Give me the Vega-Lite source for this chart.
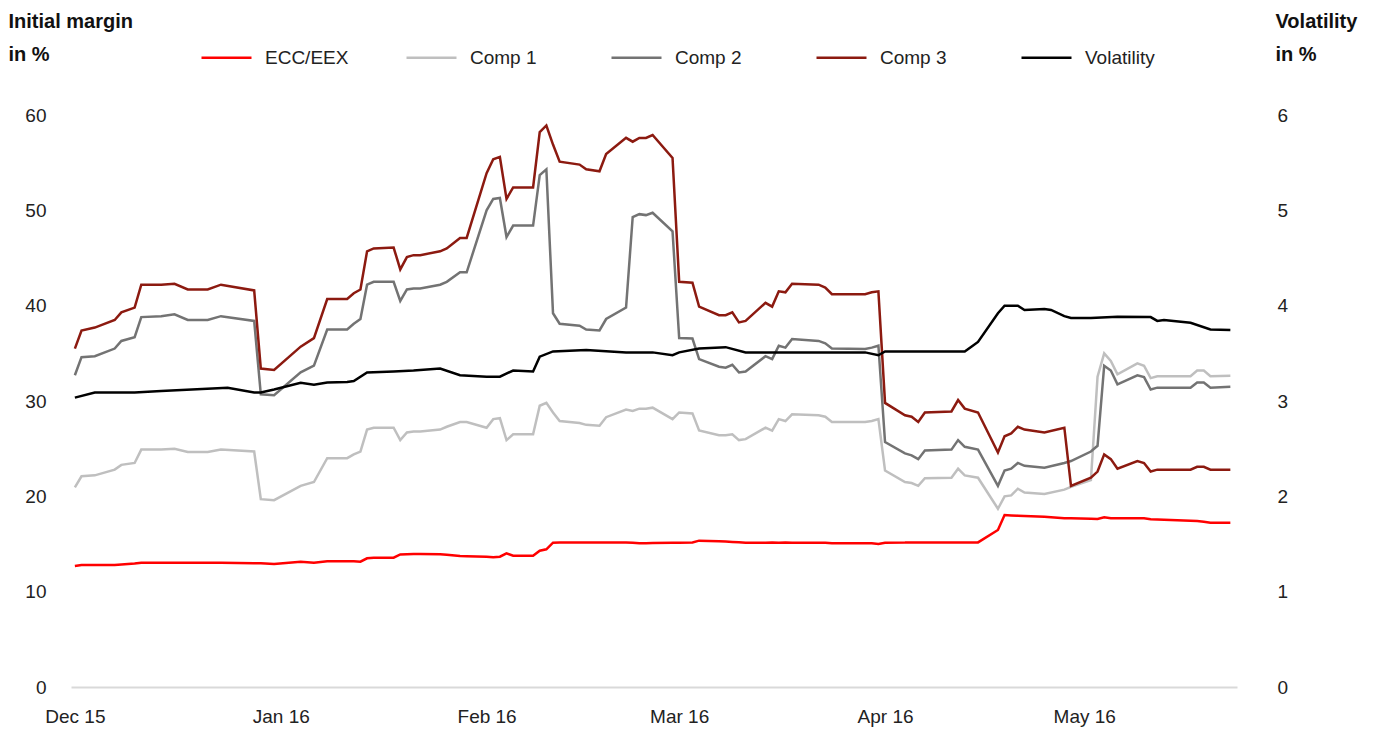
{
  "$schema": "https://vega.github.io/schema/vega-lite/v6.json",
  "width": 1166,
  "height": 572,
  "autosize": {"type": "none"},
  "padding": {"left": 71, "top": 115, "right": 138, "bottom": 44},
  "background": "#ffffff",
  "config": {
    "font": "Liberation Sans",
    "view": {"stroke": null},
    "axis": {"grid": false, "ticks": false, "labelFontSize": 19, "labelColor": "#222222", "titleColor": "#111111"}
  },
  "datasets": {
    "margins": [
      {"date": "2015/12/01", "ECC/EEX": 12.7, "Comp 1": 20.95, "Comp 2": 32.7, "Comp 3": 35.5},
      {"date": "2015/12/02", "ECC/EEX": 12.8, "Comp 1": 22.1, "Comp 2": 34.6, "Comp 3": 37.4},
      {"date": "2015/12/04", "ECC/EEX": 12.8, "Comp 1": 22.2, "Comp 2": 34.7, "Comp 3": 37.7},
      {"date": "2015/12/07", "ECC/EEX": 12.8, "Comp 1": 22.8, "Comp 2": 35.5, "Comp 3": 38.5},
      {"date": "2015/12/08", "ECC/EEX": 12.85, "Comp 1": 23.3, "Comp 2": 36.3, "Comp 3": 39.3},
      {"date": "2015/12/10", "ECC/EEX": 12.95, "Comp 1": 23.5, "Comp 2": 36.7, "Comp 3": 39.8},
      {"date": "2015/12/11", "ECC/EEX": 13.04, "Comp 1": 24.9, "Comp 2": 38.8, "Comp 3": 42.2},
      {"date": "2015/12/14", "ECC/EEX": 13.04, "Comp 1": 24.9, "Comp 2": 38.9, "Comp 3": 42.2},
      {"date": "2015/12/16", "ECC/EEX": 13.04, "Comp 1": 25.0, "Comp 2": 39.1, "Comp 3": 42.3},
      {"date": "2015/12/18", "ECC/EEX": 13.04, "Comp 1": 24.65, "Comp 2": 38.5, "Comp 3": 41.7},
      {"date": "2015/12/21", "ECC/EEX": 13.04, "Comp 1": 24.65, "Comp 2": 38.5, "Comp 3": 41.7},
      {"date": "2015/12/23", "ECC/EEX": 13.04, "Comp 1": 24.9, "Comp 2": 38.9, "Comp 3": 42.2},
      {"date": "2015/12/28", "ECC/EEX": 12.97, "Comp 1": 24.7, "Comp 2": 38.4, "Comp 3": 41.6},
      {"date": "2015/12/29", "ECC/EEX": 12.97, "Comp 1": 19.7, "Comp 2": 30.7, "Comp 3": 33.4},
      {"date": "2015/12/31", "ECC/EEX": 12.9, "Comp 1": 19.6, "Comp 2": 30.6, "Comp 3": 33.25},
      {"date": "2016/01/04", "ECC/EEX": 13.15, "Comp 1": 21.1, "Comp 2": 33.0, "Comp 3": 35.7},
      {"date": "2016/01/06", "ECC/EEX": 13.04, "Comp 1": 21.5, "Comp 2": 33.7, "Comp 3": 36.6},
      {"date": "2016/01/08", "ECC/EEX": 13.2, "Comp 1": 24.0, "Comp 2": 37.5, "Comp 3": 40.7},
      {"date": "2016/01/11", "ECC/EEX": 13.2, "Comp 1": 24.0, "Comp 2": 37.5, "Comp 3": 40.7},
      {"date": "2016/01/12", "ECC/EEX": 13.18, "Comp 1": 24.4, "Comp 2": 38.1, "Comp 3": 41.3},
      {"date": "2016/01/13", "ECC/EEX": 13.15, "Comp 1": 24.7, "Comp 2": 38.6, "Comp 3": 41.7},
      {"date": "2016/01/14", "ECC/EEX": 13.5, "Comp 1": 27.0, "Comp 2": 42.2, "Comp 3": 45.7},
      {"date": "2016/01/15", "ECC/EEX": 13.57, "Comp 1": 27.2, "Comp 2": 42.5, "Comp 3": 46.0},
      {"date": "2016/01/18", "ECC/EEX": 13.57, "Comp 1": 27.2, "Comp 2": 42.5, "Comp 3": 46.1},
      {"date": "2016/01/19", "ECC/EEX": 13.9, "Comp 1": 25.9, "Comp 2": 40.5, "Comp 3": 43.8},
      {"date": "2016/01/20", "ECC/EEX": 13.92, "Comp 1": 26.7, "Comp 2": 41.7, "Comp 3": 45.1},
      {"date": "2016/01/21", "ECC/EEX": 13.94, "Comp 1": 26.8, "Comp 2": 41.8, "Comp 3": 45.3},
      {"date": "2016/01/22", "ECC/EEX": 13.95, "Comp 1": 26.8, "Comp 2": 41.8, "Comp 3": 45.3},
      {"date": "2016/01/25", "ECC/EEX": 13.92, "Comp 1": 27.0, "Comp 2": 42.2, "Comp 3": 45.7},
      {"date": "2016/01/26", "ECC/EEX": 13.88, "Comp 1": 27.3, "Comp 2": 42.5, "Comp 3": 46.0},
      {"date": "2016/01/28", "ECC/EEX": 13.74, "Comp 1": 27.8, "Comp 2": 43.5, "Comp 3": 47.1},
      {"date": "2016/01/29", "ECC/EEX": 13.72, "Comp 1": 27.8, "Comp 2": 43.5, "Comp 3": 47.1},
      {"date": "2016/02/01", "ECC/EEX": 13.67, "Comp 1": 27.2, "Comp 2": 50.0, "Comp 3": 53.9},
      {"date": "2016/02/02", "ECC/EEX": 13.6, "Comp 1": 28.1, "Comp 2": 51.2, "Comp 3": 55.35},
      {"date": "2016/02/03", "ECC/EEX": 13.67, "Comp 1": 28.2, "Comp 2": 51.3, "Comp 3": 55.6},
      {"date": "2016/02/04", "ECC/EEX": 14.02, "Comp 1": 25.9, "Comp 2": 47.2, "Comp 3": 51.2},
      {"date": "2016/02/05", "ECC/EEX": 13.77, "Comp 1": 26.5, "Comp 2": 48.4, "Comp 3": 52.4},
      {"date": "2016/02/08", "ECC/EEX": 13.77, "Comp 1": 26.5, "Comp 2": 48.4, "Comp 3": 52.4},
      {"date": "2016/02/09", "ECC/EEX": 14.3, "Comp 1": 29.5, "Comp 2": 53.7, "Comp 3": 58.2},
      {"date": "2016/02/10", "ECC/EEX": 14.44, "Comp 1": 29.8, "Comp 2": 54.3, "Comp 3": 58.9},
      {"date": "2016/02/11", "ECC/EEX": 15.14, "Comp 1": 28.8, "Comp 2": 39.2, "Comp 3": 56.9},
      {"date": "2016/02/12", "ECC/EEX": 15.15, "Comp 1": 27.9, "Comp 2": 38.1, "Comp 3": 55.1},
      {"date": "2016/02/15", "ECC/EEX": 15.15, "Comp 1": 27.7, "Comp 2": 37.9, "Comp 3": 54.8},
      {"date": "2016/02/16", "ECC/EEX": 15.16, "Comp 1": 27.5, "Comp 2": 37.5, "Comp 3": 54.3},
      {"date": "2016/02/18", "ECC/EEX": 15.16, "Comp 1": 27.4, "Comp 2": 37.4, "Comp 3": 54.1},
      {"date": "2016/02/19", "ECC/EEX": 15.17, "Comp 1": 28.3, "Comp 2": 38.6, "Comp 3": 55.9},
      {"date": "2016/02/22", "ECC/EEX": 15.17, "Comp 1": 29.1, "Comp 2": 39.8, "Comp 3": 57.6},
      {"date": "2016/02/23", "ECC/EEX": 15.12, "Comp 1": 28.95, "Comp 2": 49.3, "Comp 3": 57.2},
      {"date": "2016/02/24", "ECC/EEX": 15.07, "Comp 1": 29.2, "Comp 2": 49.6, "Comp 3": 57.6},
      {"date": "2016/02/25", "ECC/EEX": 15.08, "Comp 1": 29.2, "Comp 2": 49.5, "Comp 3": 57.6},
      {"date": "2016/02/26", "ECC/EEX": 15.1, "Comp 1": 29.3, "Comp 2": 49.75, "Comp 3": 57.9},
      {"date": "2016/02/29", "ECC/EEX": 15.14, "Comp 1": 28.1, "Comp 2": 47.8, "Comp 3": 55.5},
      {"date": "2016/03/01", "ECC/EEX": 15.14, "Comp 1": 28.8, "Comp 2": 36.6, "Comp 3": 42.5},
      {"date": "2016/03/03", "ECC/EEX": 15.17, "Comp 1": 28.7, "Comp 2": 36.55, "Comp 3": 42.4},
      {"date": "2016/03/04", "ECC/EEX": 15.35, "Comp 1": 26.9, "Comp 2": 34.4, "Comp 3": 39.9},
      {"date": "2016/03/07", "ECC/EEX": 15.28, "Comp 1": 26.4, "Comp 2": 33.6, "Comp 3": 39.0},
      {"date": "2016/03/08", "ECC/EEX": 15.25, "Comp 1": 26.4, "Comp 2": 33.5, "Comp 3": 39.0},
      {"date": "2016/03/09", "ECC/EEX": 15.22, "Comp 1": 26.5, "Comp 2": 33.8, "Comp 3": 39.3},
      {"date": "2016/03/10", "ECC/EEX": 15.18, "Comp 1": 25.9, "Comp 2": 33.0, "Comp 3": 38.25},
      {"date": "2016/03/11", "ECC/EEX": 15.14, "Comp 1": 26.0, "Comp 2": 33.1, "Comp 3": 38.4},
      {"date": "2016/03/14", "ECC/EEX": 15.14, "Comp 1": 27.2, "Comp 2": 34.7, "Comp 3": 40.3},
      {"date": "2016/03/15", "ECC/EEX": 15.15, "Comp 1": 26.9, "Comp 2": 34.4, "Comp 3": 39.9},
      {"date": "2016/03/16", "ECC/EEX": 15.14, "Comp 1": 28.1, "Comp 2": 35.8, "Comp 3": 41.5},
      {"date": "2016/03/17", "ECC/EEX": 15.15, "Comp 1": 27.9, "Comp 2": 35.6, "Comp 3": 41.4},
      {"date": "2016/03/18", "ECC/EEX": 15.14, "Comp 1": 28.6, "Comp 2": 36.5, "Comp 3": 42.3},
      {"date": "2016/03/22", "ECC/EEX": 15.14, "Comp 1": 28.5, "Comp 2": 36.3, "Comp 3": 42.2},
      {"date": "2016/03/23", "ECC/EEX": 15.14, "Comp 1": 28.35, "Comp 2": 36.05, "Comp 3": 41.9},
      {"date": "2016/03/24", "ECC/EEX": 15.07, "Comp 1": 27.8, "Comp 2": 35.5, "Comp 3": 41.2},
      {"date": "2016/03/29", "ECC/EEX": 15.07, "Comp 1": 27.8, "Comp 2": 35.45, "Comp 3": 41.2},
      {"date": "2016/03/30", "ECC/EEX": 15.07, "Comp 1": 27.9, "Comp 2": 35.6, "Comp 3": 41.4},
      {"date": "2016/03/31", "ECC/EEX": 15.0, "Comp 1": 28.1, "Comp 2": 35.8, "Comp 3": 41.5},
      {"date": "2016/04/01", "ECC/EEX": 15.14, "Comp 1": 22.7, "Comp 2": 25.7, "Comp 3": 29.8},
      {"date": "2016/04/04", "ECC/EEX": 15.15, "Comp 1": 21.5, "Comp 2": 24.5, "Comp 3": 28.5},
      {"date": "2016/04/05", "ECC/EEX": 15.17, "Comp 1": 21.4, "Comp 2": 24.3, "Comp 3": 28.35},
      {"date": "2016/04/06", "ECC/EEX": 15.17, "Comp 1": 21.1, "Comp 2": 23.9, "Comp 3": 27.8},
      {"date": "2016/04/07", "ECC/EEX": 15.17, "Comp 1": 21.9, "Comp 2": 24.8, "Comp 3": 28.8},
      {"date": "2016/04/11", "ECC/EEX": 15.17, "Comp 1": 21.95, "Comp 2": 24.9, "Comp 3": 28.9},
      {"date": "2016/04/12", "ECC/EEX": 15.17, "Comp 1": 22.9, "Comp 2": 25.9, "Comp 3": 30.1},
      {"date": "2016/04/13", "ECC/EEX": 15.17, "Comp 1": 22.2, "Comp 2": 25.2, "Comp 3": 29.2},
      {"date": "2016/04/15", "ECC/EEX": 15.17, "Comp 1": 21.95, "Comp 2": 24.9, "Comp 3": 28.8},
      {"date": "2016/04/18", "ECC/EEX": 16.47, "Comp 1": 18.7, "Comp 2": 21.1, "Comp 3": 24.6},
      {"date": "2016/04/19", "ECC/EEX": 18.04, "Comp 1": 20.0, "Comp 2": 22.7, "Comp 3": 26.3},
      {"date": "2016/04/20", "ECC/EEX": 18.0, "Comp 1": 20.1, "Comp 2": 22.9, "Comp 3": 26.6},
      {"date": "2016/04/21", "ECC/EEX": 17.97, "Comp 1": 20.8, "Comp 2": 23.5, "Comp 3": 27.3},
      {"date": "2016/04/22", "ECC/EEX": 17.95, "Comp 1": 20.4, "Comp 2": 23.2, "Comp 3": 27.0},
      {"date": "2016/04/25", "ECC/EEX": 17.87, "Comp 1": 20.25, "Comp 2": 23.0, "Comp 3": 26.7},
      {"date": "2016/04/28", "ECC/EEX": 17.69, "Comp 1": 20.7, "Comp 2": 23.5, "Comp 3": 27.2},
      {"date": "2016/04/29", "ECC/EEX": 17.69, "Comp 1": 21.0, "Comp 2": 23.7, "Comp 3": 21.1},
      {"date": "2016/05/02", "ECC/EEX": 17.66, "Comp 1": 21.7, "Comp 2": 24.7, "Comp 3": 21.95},
      {"date": "2016/05/03", "ECC/EEX": 17.62, "Comp 1": 32.55, "Comp 2": 25.3, "Comp 3": 22.6},
      {"date": "2016/05/04", "ECC/EEX": 17.8, "Comp 1": 35.0, "Comp 2": 33.7, "Comp 3": 24.4},
      {"date": "2016/05/05", "ECC/EEX": 17.69, "Comp 1": 34.2, "Comp 2": 33.2, "Comp 3": 23.9},
      {"date": "2016/05/06", "ECC/EEX": 17.69, "Comp 1": 32.8, "Comp 2": 31.75, "Comp 3": 22.9},
      {"date": "2016/05/09", "ECC/EEX": 17.69, "Comp 1": 33.95, "Comp 2": 32.7, "Comp 3": 23.7},
      {"date": "2016/05/10", "ECC/EEX": 17.69, "Comp 1": 33.7, "Comp 2": 32.5, "Comp 3": 23.5},
      {"date": "2016/05/11", "ECC/EEX": 17.59, "Comp 1": 32.4, "Comp 2": 31.2, "Comp 3": 22.6},
      {"date": "2016/05/12", "ECC/EEX": 17.57, "Comp 1": 32.6, "Comp 2": 31.4, "Comp 3": 22.8},
      {"date": "2016/05/17", "ECC/EEX": 17.45, "Comp 1": 32.6, "Comp 2": 31.4, "Comp 3": 22.8},
      {"date": "2016/05/18", "ECC/EEX": 17.4, "Comp 1": 33.2, "Comp 2": 31.95, "Comp 3": 23.1},
      {"date": "2016/05/19", "ECC/EEX": 17.33, "Comp 1": 33.2, "Comp 2": 31.95, "Comp 3": 23.1},
      {"date": "2016/05/20", "ECC/EEX": 17.24, "Comp 1": 32.6, "Comp 2": 31.4, "Comp 3": 22.8},
      {"date": "2016/05/23", "ECC/EEX": 17.24, "Comp 1": 32.65, "Comp 2": 31.5, "Comp 3": 22.8}
    ],
    "vol": [
      {"date": "2015/12/01", "Volatility": 3.035},
      {"date": "2015/12/04", "Volatility": 3.09},
      {"date": "2015/12/10", "Volatility": 3.09},
      {"date": "2015/12/14", "Volatility": 3.105},
      {"date": "2015/12/24", "Volatility": 3.14},
      {"date": "2015/12/28", "Volatility": 3.09},
      {"date": "2015/12/29", "Volatility": 3.09},
      {"date": "2015/12/31", "Volatility": 3.12},
      {"date": "2016/01/04", "Volatility": 3.19},
      {"date": "2016/01/06", "Volatility": 3.17},
      {"date": "2016/01/08", "Volatility": 3.195},
      {"date": "2016/01/11", "Volatility": 3.2},
      {"date": "2016/01/12", "Volatility": 3.21},
      {"date": "2016/01/14", "Volatility": 3.3},
      {"date": "2016/01/18", "Volatility": 3.31},
      {"date": "2016/01/21", "Volatility": 3.32},
      {"date": "2016/01/25", "Volatility": 3.34},
      {"date": "2016/01/28", "Volatility": 3.27},
      {"date": "2016/02/01", "Volatility": 3.255},
      {"date": "2016/02/03", "Volatility": 3.255},
      {"date": "2016/02/05", "Volatility": 3.32},
      {"date": "2016/02/08", "Volatility": 3.31},
      {"date": "2016/02/09", "Volatility": 3.465},
      {"date": "2016/02/11", "Volatility": 3.52},
      {"date": "2016/02/16", "Volatility": 3.535},
      {"date": "2016/02/22", "Volatility": 3.51},
      {"date": "2016/02/26", "Volatility": 3.51},
      {"date": "2016/02/29", "Volatility": 3.48},
      {"date": "2016/03/01", "Volatility": 3.51},
      {"date": "2016/03/04", "Volatility": 3.55},
      {"date": "2016/03/08", "Volatility": 3.565},
      {"date": "2016/03/11", "Volatility": 3.51},
      {"date": "2016/03/29", "Volatility": 3.51},
      {"date": "2016/03/31", "Volatility": 3.48},
      {"date": "2016/04/01", "Volatility": 3.52},
      {"date": "2016/04/04", "Volatility": 3.52},
      {"date": "2016/04/13", "Volatility": 3.52},
      {"date": "2016/04/14", "Volatility": 3.57},
      {"date": "2016/04/15", "Volatility": 3.62},
      {"date": "2016/04/18", "Volatility": 3.92},
      {"date": "2016/04/19", "Volatility": 4.0},
      {"date": "2016/04/21", "Volatility": 4.0},
      {"date": "2016/04/22", "Volatility": 3.955},
      {"date": "2016/04/25", "Volatility": 3.965},
      {"date": "2016/04/26", "Volatility": 3.955},
      {"date": "2016/04/28", "Volatility": 3.89},
      {"date": "2016/04/29", "Volatility": 3.87},
      {"date": "2016/05/02", "Volatility": 3.87},
      {"date": "2016/05/06", "Volatility": 3.885},
      {"date": "2016/05/11", "Volatility": 3.88},
      {"date": "2016/05/12", "Volatility": 3.84},
      {"date": "2016/05/13", "Volatility": 3.85},
      {"date": "2016/05/17", "Volatility": 3.82},
      {"date": "2016/05/20", "Volatility": 3.75},
      {"date": "2016/05/23", "Volatility": 3.745}
    ]
  },
  "layer": [
    {
      "data": {"name": "margins"},
      "transform": [{"fold": ["ECC/EEX", "Comp 1", "Comp 2", "Comp 3"], "as": ["series", "value"]}],
      "mark": {"type": "line", "strokeWidth": 2.5, "interpolate": "linear"},
      "encoding": {
        "x": {
          "field": "date", "type": "temporal",
          "scale": {"domain": [{"year": 2015, "month": 11, "date": 30, "hours": 10}, {"year": 2016, "month": 5, "date": 24}]},
          "axis": {
            "values": [{"year": 2015, "month": 12, "date": 1}, {"year": 2016, "month": 1, "date": 1}, {"year": 2016, "month": 2, "date": 1}, {"year": 2016, "month": 3, "date": 1}, {"year": 2016, "month": 4, "date": 1}, {"year": 2016, "month": 5, "date": 1}],
            "format": "%b %y", "title": null, "domain": true, "domainColor": "#d9d9d9", "domainWidth": 2,
            "labelPadding": 20, "labelFlush": false, "labelBound": false
          }
        },
        "y": {
          "field": "value", "type": "quantitative",
          "scale": {"domain": [0, 60], "nice": false},
          "axis": {
            "orient": "left", "values": [0, 10, 20, 30, 40, 50, 60], "domain": false,
            "title": ["Initial margin", "in %"], "titleAngle": 0, "titleAlign": "left", "titleBaseline": "alphabetic",
            "titleX": -63, "titleY": -88, "titleFontSize": 20, "titleFontWeight": "bold", "titleLineHeight": 33,
            "labelPadding": 25
          }
        },
        "color": {
          "field": "series", "type": "nominal",
          "scale": {"domain": ["ECC/EEX", "Comp 1", "Comp 2", "Comp 3", "Volatility"], "range": ["#ff0000", "#bfbfbf", "#737373", "#8c1a10", "#000000"]},
          "legend": {
            "orient": "none", "legendX": 129, "legendY": -84, "direction": "horizontal", "columns": 5, "gridAlign": "all",
            "title": null, "symbolType": "stroke", "symbolSize": 2500, "symbolStrokeWidth": 2.5,
            "labelFontSize": 19, "labelOffset": 12, "columnPadding": 52, "labelColor": "#222222"
          }
        }
      }
    },
    {
      "data": {"name": "vol"},
      "transform": [{"fold": ["Volatility"], "as": ["series", "value"]}],
      "mark": {"type": "line", "strokeWidth": 2.5, "interpolate": "linear"},
      "encoding": {
        "x": {
          "field": "date", "type": "temporal",
          "scale": {"domain": [{"year": 2015, "month": 11, "date": 30, "hours": 10}, {"year": 2016, "month": 5, "date": 24}]},
          "axis": {
            "values": [{"year": 2015, "month": 12, "date": 1}, {"year": 2016, "month": 1, "date": 1}, {"year": 2016, "month": 2, "date": 1}, {"year": 2016, "month": 3, "date": 1}, {"year": 2016, "month": 4, "date": 1}, {"year": 2016, "month": 5, "date": 1}],
            "format": "%b %y", "title": null, "domain": true, "domainColor": "#d9d9d9", "domainWidth": 2,
            "labelPadding": 20, "labelFlush": false, "labelBound": false
          }
        },
        "y": {
          "field": "value", "type": "quantitative",
          "scale": {"domain": [0, 6], "nice": false},
          "axis": {
            "orient": "right", "values": [0, 1, 2, 3, 4, 5, 6], "domain": false,
            "title": ["Volatility", "in %"], "titleAngle": 0, "titleAlign": "left", "titleBaseline": "alphabetic",
            "titleX": 38, "titleY": -88, "titleFontSize": 20, "titleFontWeight": "bold", "titleLineHeight": 33,
            "labelPadding": 40, "labelAlign": "left"
          }
        },
        "color": {"field": "series", "type": "nominal"}
      }
    }
  ],
  "resolve": {"scale": {"y": "independent"}}
}
